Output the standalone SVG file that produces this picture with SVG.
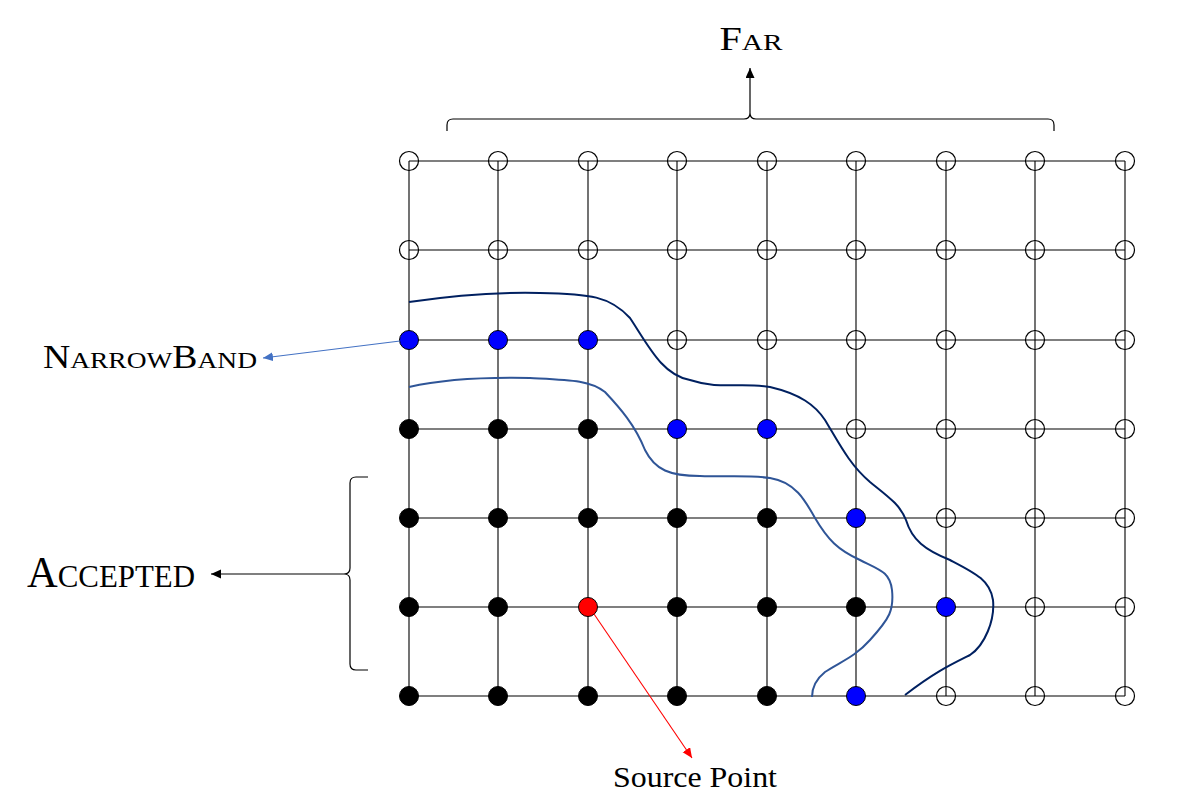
<svg xmlns="http://www.w3.org/2000/svg" width="1202" height="809" viewBox="0 0 1202 809">
<style>
.grid{stroke:#000;stroke-width:1.1;fill:none}
.open{fill:none;stroke:#000;stroke-width:1.2}
.acc{fill:#000;stroke:#000;stroke-width:1}
.nb{fill:#0000FF;stroke:#000;stroke-width:1}
.src{fill:#FF0000;stroke:#000;stroke-width:1}
.lbl{font-family:"Liberation Serif","DejaVu Serif",serif;fill:#000}
.brace{fill:none;stroke:#000;stroke-width:1.2}
</style>
<defs>
<marker id="ak" markerUnits="userSpaceOnUse" markerWidth="12" markerHeight="10" refX="10" refY="4.5" orient="auto"><path d="M0,0 L10,4.5 L0,9 Z" fill="#000"/></marker>
<marker id="ab" markerUnits="userSpaceOnUse" markerWidth="12" markerHeight="10" refX="10" refY="4.5" orient="auto"><path d="M0,0 L10,4.5 L0,9 Z" fill="#4472C4"/></marker>
<marker id="ar" markerUnits="userSpaceOnUse" markerWidth="12" markerHeight="10" refX="10" refY="4.5" orient="auto"><path d="M0,0 L10,4.5 L0,9 Z" fill="#FF0000"/></marker>
</defs>
<rect width="1202" height="809" fill="#fff"/>
<g id="grid" class="grid">
<path d="M409,161H1125M409,250H1125M409,340H1125M409,429H1125M409,518H1125M409,607H1125M409,696H1125"/>
<path d="M409,161V696M498,161V696M588,161V696M677,161V696M767,161V696M856,161V696M946,161V696M1035,161V696M1125,161V696"/>
</g>
<g id="fronts" fill="none">
<path d="M409,302 C450,296 500,292 540,293 C590,294 610,296 630,318 C648,345 662,375 690,380 C720,390 740,382 770,387 C800,394 815,405 825,420 C840,445 850,465 870,482 C890,498 900,505 906,520 C912,540 925,550 950,560 C975,573 990,580 993,600 C995,620 985,645 970,655 C950,665 935,672 905,695" stroke="#002060" stroke-width="2"/>
<path d="M409,387 C440,380 480,377 530,378 C570,380 590,380 605,392 C620,408 635,425 645,450 C655,470 670,476 700,476 C730,477 750,475 770,478 C795,482 805,500 815,518 C828,540 838,550 860,560 C880,570 890,572 892,590 C894,610 890,618 870,640 C855,657 840,662 825,672 C815,680 812,688 812,697" stroke="#2F5597" stroke-width="2"/>
</g>
<g id="nodes">
<g id="row0" class="open"><circle cx="409" cy="161" r="9.5"/><circle cx="498" cy="161" r="9.5"/><circle cx="588" cy="161" r="9.5"/><circle cx="677" cy="161" r="9.5"/><circle cx="767" cy="161" r="9.5"/><circle cx="856" cy="161" r="9.5"/><circle cx="946" cy="161" r="9.5"/><circle cx="1035" cy="161" r="9.5"/><circle cx="1125" cy="161" r="9.5"/></g>
<g id="row1" class="open"><circle cx="409" cy="250" r="9.5"/><circle cx="498" cy="250" r="9.5"/><circle cx="588" cy="250" r="9.5"/><circle cx="677" cy="250" r="9.5"/><circle cx="767" cy="250" r="9.5"/><circle cx="856" cy="250" r="9.5"/><circle cx="946" cy="250" r="9.5"/><circle cx="1035" cy="250" r="9.5"/><circle cx="1125" cy="250" r="9.5"/></g>
<g id="row2"><circle class="nb" cx="409" cy="340" r="9.5"/><circle class="nb" cx="498" cy="340" r="9.5"/><circle class="nb" cx="588" cy="340" r="9.5"/><g class="open"><circle cx="677" cy="340" r="9.5"/><circle cx="767" cy="340" r="9.5"/><circle cx="856" cy="340" r="9.5"/><circle cx="946" cy="340" r="9.5"/><circle cx="1035" cy="340" r="9.5"/><circle cx="1125" cy="340" r="9.5"/></g></g>
<g id="row3"><circle class="acc" cx="409" cy="429" r="9.5"/><circle class="acc" cx="498" cy="429" r="9.5"/><circle class="acc" cx="588" cy="429" r="9.5"/><circle class="nb" cx="677" cy="429" r="9.5"/><circle class="nb" cx="767" cy="429" r="9.5"/><g class="open"><circle cx="856" cy="429" r="9.5"/><circle cx="946" cy="429" r="9.5"/><circle cx="1035" cy="429" r="9.5"/><circle cx="1125" cy="429" r="9.5"/></g></g>
<g id="row4"><circle class="acc" cx="409" cy="518" r="9.5"/><circle class="acc" cx="498" cy="518" r="9.5"/><circle class="acc" cx="588" cy="518" r="9.5"/><circle class="acc" cx="677" cy="518" r="9.5"/><circle class="acc" cx="767" cy="518" r="9.5"/><circle class="nb" cx="856" cy="518" r="9.5"/><g class="open"><circle cx="946" cy="518" r="9.5"/><circle cx="1035" cy="518" r="9.5"/><circle cx="1125" cy="518" r="9.5"/></g></g>
<g id="row5"><circle class="acc" cx="409" cy="607" r="9.5"/><circle class="acc" cx="498" cy="607" r="9.5"/><circle id="source" class="src" cx="588" cy="607" r="9.5"/><circle class="acc" cx="677" cy="607" r="9.5"/><circle class="acc" cx="767" cy="607" r="9.5"/><circle class="acc" cx="856" cy="607" r="9.5"/><circle class="nb" cx="946" cy="607" r="9.5"/><g class="open"><circle cx="1035" cy="607" r="9.5"/><circle cx="1125" cy="607" r="9.5"/></g></g>
<g id="row6"><circle class="acc" cx="409" cy="696" r="9.5"/><circle class="acc" cx="498" cy="696" r="9.5"/><circle class="acc" cx="588" cy="696" r="9.5"/><circle class="acc" cx="677" cy="696" r="9.5"/><circle class="acc" cx="767" cy="696" r="9.5"/><circle class="nb" cx="856" cy="696" r="9.5"/><g class="open"><circle cx="946" cy="696" r="9.5"/><circle cx="1035" cy="696" r="9.5"/><circle cx="1125" cy="696" r="9.5"/></g></g>
</g>
<g id="braces" class="brace">
<path d="M447,131 V125 Q447,119 453,119 H744 Q750,119 750,113 Q750,119 756,119 H1048 Q1054,119 1054,125 V131"/>
<path d="M368,477 H356 Q350,477 350,483 V568 Q350,574 344,574 Q350,574 350,580 V664 Q350,670 356,670 H368"/>
</g>
<g id="connectors" fill="none">
<line x1="750" y1="113" x2="750" y2="68" stroke="#000" stroke-width="1.2" marker-end="url(#ak)"/>
<line x1="344" y1="574" x2="211" y2="574" stroke="#000" stroke-width="1.2" marker-end="url(#ak)"/>
<line x1="400" y1="341" x2="263" y2="358" stroke="#4472C4" stroke-width="1.2" marker-end="url(#ab)"/>
<line x1="594" y1="614" x2="692" y2="758" stroke="#FF0000" stroke-width="1.1" marker-end="url(#ar)"/>
</g>
<g id="labels" class="lbl">
<text id="far" x="751" y="50" text-anchor="middle" textLength="63" lengthAdjust="spacingAndGlyphs" font-size="33">F<tspan font-size="24">AR</tspan></text>
<text id="narrowband" x="43" y="368" textLength="214" lengthAdjust="spacingAndGlyphs" font-size="33">N<tspan font-size="24">ARROW</tspan>B<tspan font-size="24">AND</tspan></text>
<text id="accepted" x="27" y="587" textLength="168" lengthAdjust="spacingAndGlyphs" font-size="44">A<tspan font-size="32">CCEPTED</tspan></text>
<text id="sourcept" x="613" y="787" textLength="164" lengthAdjust="spacingAndGlyphs" font-size="29">Source Point</text>
</g>
</svg>
